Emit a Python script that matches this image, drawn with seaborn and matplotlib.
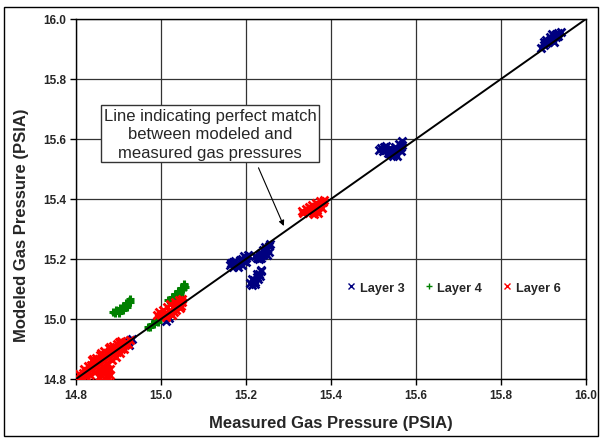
import matplotlib
matplotlib.use("Agg")
import matplotlib.pyplot as plt
from matplotlib.patches import Rectangle
from matplotlib.lines import Line2D
import seaborn as sns
import pandas as pd

sns.set_style("white")
plt.rcParams["font.family"] = ["Liberation Sans", "DejaVu Sans"]

# Layer 3 measured / modeled gas pressures (PSIA)
layer3_x = [15.895, 15.900, 15.905, 15.910, 15.915, 15.920, 15.925, 15.930, 15.935, 15.940,
            15.905, 15.915, 15.925, 15.930, 15.900, 15.920, 15.935,
            15.512, 15.517, 15.522, 15.525, 15.530, 15.535, 15.540, 15.545, 15.545, 15.550,
            15.555, 15.555, 15.560, 15.565, 15.565, 15.568, 15.568, 15.540, 15.530, 15.550,
            15.162, 15.165, 15.170, 15.175, 15.180, 15.185, 15.190, 15.190, 15.195, 15.200,
            15.205, 15.200, 15.170, 15.195, 15.180,
            15.220, 15.225, 15.230, 15.235, 15.235, 15.240, 15.245, 15.245, 15.250, 15.255,
            15.255, 15.257, 15.250, 15.230, 15.240,
            15.210, 15.215, 15.218, 15.222, 15.225, 15.228, 15.230, 15.232, 15.235, 15.235,
            15.225, 15.215, 15.222,
            14.922, 14.928, 14.932, 14.925, 15.012, 15.018]
layer3_y = [15.905, 15.915, 15.920, 15.925, 15.930, 15.935, 15.945, 15.950, 15.955, 15.958,
            15.930, 15.940, 15.925, 15.940, 15.925, 15.950, 15.945,
            15.565, 15.570, 15.560, 15.575, 15.565, 15.555, 15.570, 15.560, 15.545, 15.575,
            15.565, 15.545, 15.585, 15.575, 15.560, 15.592, 15.580, 15.550, 15.578, 15.555,
            15.180, 15.188, 15.175, 15.192, 15.185, 15.197, 15.180, 15.200, 15.210, 15.205,
            15.215, 15.190, 15.190, 15.195, 15.175,
            15.210, 15.205, 15.215, 15.220, 15.205, 15.230, 15.220, 15.240, 15.235, 15.245,
            15.225, 15.250, 15.215, 15.200, 15.212,
            15.120, 15.115, 15.130, 15.125, 15.140, 15.135, 15.150, 15.145, 15.160, 15.165,
            15.150, 15.135, 15.118,
            14.925, 14.930, 14.935, 14.915, 14.995, 15.002]

# Layer 4
layer4_x = [14.888, 14.892, 14.895, 14.900, 14.903, 14.907, 14.910, 14.914, 14.917, 14.920,
            14.924, 14.927, 14.928, 14.900, 14.910, 14.920,
            15.017, 15.022, 15.025, 15.030, 15.033, 15.038, 15.040, 15.045, 15.048, 15.052,
            15.055, 15.056, 15.055, 15.035, 15.045,
            14.970, 14.975, 14.978, 14.983, 14.987, 14.992, 14.995, 14.998, 15.000]
layer4_y = [15.025, 15.020, 15.030, 15.028, 15.038, 15.033, 15.045, 15.040, 15.052, 15.048,
            15.060, 15.057, 15.068, 15.020, 15.030, 15.040,
            15.065, 15.060, 15.075, 15.070, 15.085, 15.080, 15.095, 15.090, 15.105, 15.100,
            15.112, 15.108, 15.118, 15.068, 15.080,
            14.975, 14.972, 14.985, 14.982, 14.995, 14.990, 15.005, 15.000, 15.015]

# Layer 6
layer6_x = [14.803, 14.806, 14.813, 14.816, 14.818, 14.824, 14.826, 14.828,
            14.833, 14.836, 14.835, 14.838, 14.844, 14.846, 14.843, 14.847,
            14.854, 14.856, 14.853, 14.857, 14.864, 14.866, 14.863, 14.867,
            14.874, 14.876, 14.873, 14.877, 14.884, 14.886, 14.883, 14.887,
            14.894, 14.896, 14.893, 14.897, 14.904, 14.906, 14.903, 14.907,
            14.913, 14.916, 14.918, 14.923, 14.927, 14.840, 14.860, 14.880, 14.900,
            14.855, 14.860, 14.865, 14.870, 14.875, 14.880, 14.880, 14.868, 14.858, 14.876,
            14.990, 14.995, 15.000, 15.005, 15.010, 15.015, 15.020, 15.020, 15.025, 15.028,
            15.032, 15.035, 15.040, 15.042, 15.045, 15.050, 15.050, 15.048, 15.012, 15.030,
            15.332, 15.335, 15.340, 15.345, 15.348, 15.352, 15.355, 15.358, 15.362, 15.365,
            15.368, 15.372, 15.375, 15.378, 15.380, 15.383, 15.370, 15.360, 15.350]
layer6_y = [14.804, 14.816, 14.806, 14.821, 14.832, 14.811, 14.826, 14.842,
            14.815, 14.831, 14.848, 14.862, 14.825, 14.841, 14.857, 14.871,
            14.834, 14.851, 14.866, 14.881, 14.845, 14.861, 14.876, 14.892,
            14.854, 14.871, 14.886, 14.902, 14.864, 14.880, 14.896, 14.909,
            14.875, 14.891, 14.905, 14.917, 14.886, 14.900, 14.914, 14.926,
            14.900, 14.912, 14.925, 14.916, 14.931, 14.866, 14.886, 14.906, 14.922,
            14.808, 14.815, 14.825, 14.810, 14.830, 14.815, 14.833, 14.835, 14.826, 14.806,
            15.015, 15.025, 15.012, 15.030, 15.020, 15.040, 15.028, 15.050, 15.015, 15.040,
            15.058, 15.030, 15.050, 15.064, 15.038, 15.058, 15.068, 15.045, 15.008, 15.022,
            15.360, 15.355, 15.368, 15.360, 15.375, 15.365, 15.380, 15.355, 15.372, 15.388,
            15.362, 15.380, 15.395, 15.370, 15.390, 15.398, 15.352, 15.350, 15.370]

ticks = [14.8, 15.0, 15.2, 15.4, 15.6, 15.8, 16.0]
tick_labels = ["14.8", "15.0", "15.2", "15.4", "15.6", "15.8", "16.0"]

layers = ["Layer 3", "Layer 4", "Layer 6"]
colors = ["#000080", "#008000", "#FF0000"]
markers = ["x", "+", "x"]

fig = plt.figure(figsize=(6.02, 4.39), dpi=100)
ax = fig.add_axes([76 / 602, 1 - 380 / 439, 510 / 602, 360 / 439])

# outer chart frame
fig.patches.append(Rectangle((4 / 602, 2 / 439), 594 / 602, 429 / 439,
                             transform=fig.transFigure, fill=False,
                             edgecolor="black", linewidth=1.0, zorder=0))

ax.set_xlim(14.8, 16.0)
ax.set_ylim(14.8, 16.0)
ax.set_xticks(ticks)
ax.set_yticks(ticks)
ax.set_xticklabels(tick_labels, fontsize=8.5, fontweight="bold")
ax.set_yticklabels(tick_labels, fontsize=8.5, fontweight="bold")
ax.tick_params(direction="out", length=4, width=1, color="black", pad=3,
               bottom=True, left=True)
ax.grid(True, color="#333333", linewidth=0.9)
ax.set_axisbelow(True)
for s in ax.spines.values():
    s.set_color("black")
    s.set_linewidth(1.0)

# perfect match line
ax.plot(ticks, ticks, color="black", linewidth=1.4, zorder=5)

frames = [pd.DataFrame({"x": layer3_x, "y": layer3_y}),
          pd.DataFrame({"x": layer4_x, "y": layer4_y}),
          pd.DataFrame({"x": layer6_x, "y": layer6_y})]
sizes = [32, 40, 32]
widths = [2.0, 2.2, 2.0]
orders = [3, 3, 4]
for df, c, m, sz, lw, zo in zip(frames, colors, markers, sizes, widths, orders):
    sns.scatterplot(data=df, x="x", y="y", marker=m, color=c, s=sz,
                    linewidth=lw, ax=ax, zorder=zo, legend=False)

handles = [Line2D([], [], linestyle="none", marker=m, color=c, markersize=4,
                  markeredgewidth=1.0) for m, c in zip(markers, colors)]
ax.legend(handles, layers, loc="center", bbox_to_anchor=(0.739, 0.253), ncol=3,
          frameon=False, prop={"weight": "bold", "size": 9.2},
          handletextpad=0.3, columnspacing=1.5, handlelength=0.8)

ax.set_xlabel("Measured Gas Pressure (PSIA)", fontsize=12, fontweight="bold", labelpad=10)
ax.set_ylabel("Modeled Gas Pressure (PSIA)", fontsize=12, fontweight="bold")
ax.yaxis.set_label_coords(-0.092, 0.43)

ax.annotate("Line indicating perfect match\nbetween modeled and\nmeasured gas pressures",
            xy=(15.289, 15.31), xytext=(15.116, 15.618), textcoords="data",
            ha="center", va="center", fontsize=12, linespacing=1.3,
            bbox=dict(boxstyle="square,pad=0.15", facecolor="white", edgecolor="#333333",
                      linewidth=1.0),
            arrowprops=dict(arrowstyle="-|>", color="black", linewidth=0.8,
                            mutation_scale=8, shrinkA=4, shrinkB=0,
                            relpos=(0.71, 0.0)),
            zorder=6)

fig.savefig("out.png", dpi=100)
